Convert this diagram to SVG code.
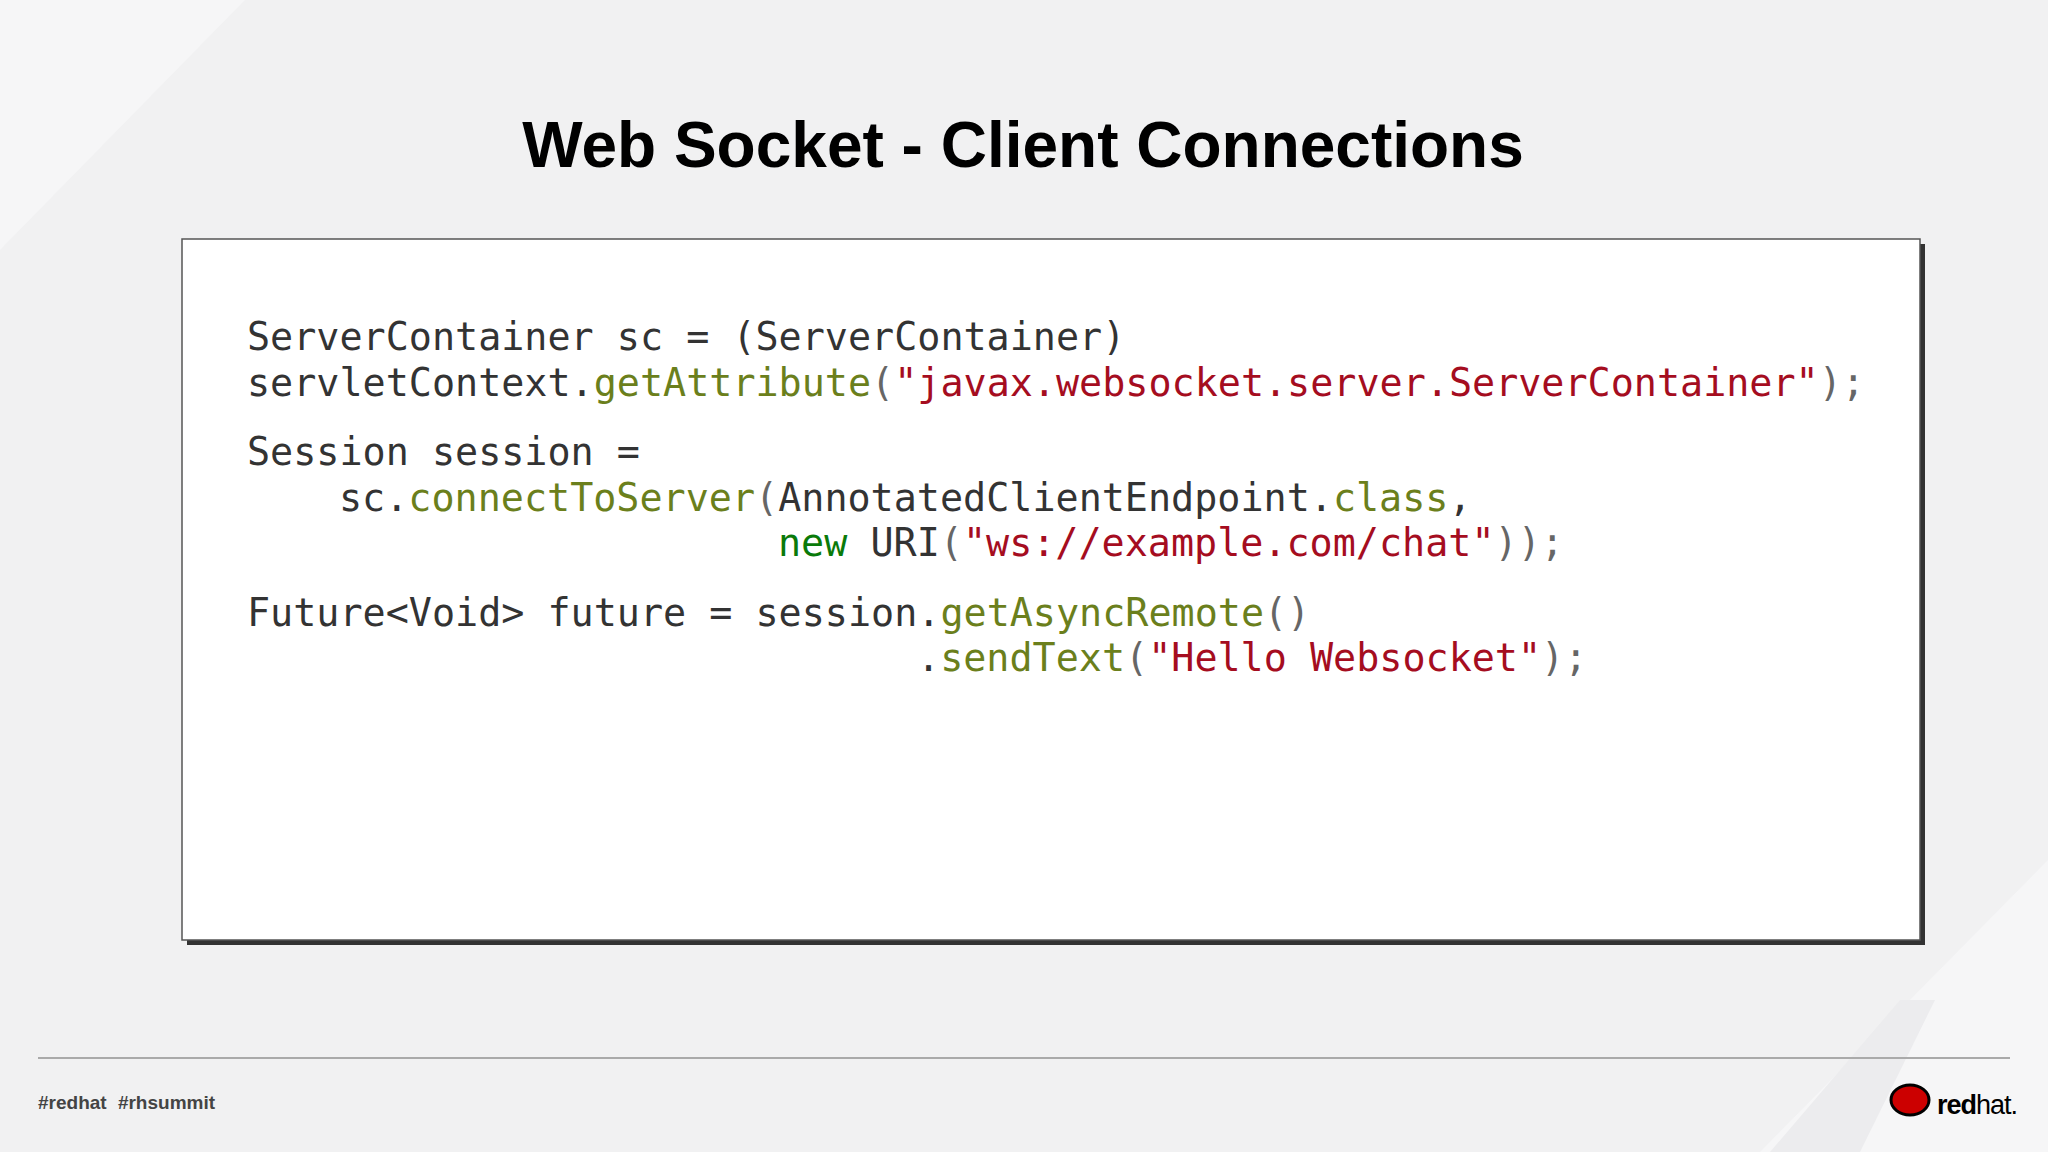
<svg xmlns="http://www.w3.org/2000/svg" width="2048" height="1152" viewBox="0 0 2048 1152">
<style>
.c{font-family:"DejaVu Sans Mono",monospace;font-size:38.4px;fill:#333}
.m{fill:#6b7f1c}.s{fill:#a50d1f}.k{fill:#0a7a0a}.p{fill:#666}
</style>
<rect width="2048" height="1152" fill="#f1f1f2"/>
<polygon points="0,0 245,0 0,250" fill="#f6f6f7"/>
<polygon points="2048,860 2048,1152 1760,1152" fill="#f6f6f7"/>
<polygon points="1935,1000 1860,1152 1770,1152 1900,1000" fill="#ececee"/>
<text x="1023" y="167" text-anchor="middle" font-family="Liberation Sans,Arial,sans-serif" font-weight="bold" font-size="64" fill="#000">Web Socket - Client Connections</text>
<g id="codebox">
<rect x="187" y="244" width="1738" height="701" fill="#333"/>
<rect x="182" y="239" width="1738" height="701" fill="#fff" stroke="#555" stroke-width="1.5"/>
</g>
<g id="code">
<text class="c" x="247" y="350">ServerContainer sc = (ServerContainer)</text>
<text class="c" x="247" y="396">servletContext.<tspan class="m">getAttribute</tspan><tspan class="p">(</tspan><tspan class="s">"javax.websocket.server.ServerContainer"</tspan><tspan class="p">);</tspan></text>
<text class="c" x="247" y="465">Session session =</text>
<text class="c" x="339" y="511">sc.<tspan class="m">connectToServer</tspan><tspan class="p">(</tspan>AnnotatedClientEndpoint.<tspan class="m">class</tspan>,</text>
<text class="c" x="778" y="556"><tspan class="k">new</tspan> URI<tspan class="p">(</tspan><tspan class="s">"ws://example.com/chat"</tspan><tspan class="p">));</tspan></text>
<text class="c" x="247" y="626">Future&lt;Void&gt; future = session.<tspan class="m">getAsyncRemote</tspan><tspan class="p">()</tspan></text>
<text class="c" x="917" y="671">.<tspan class="m">sendText</tspan><tspan class="p">(</tspan><tspan class="s">"Hello Websocket"</tspan><tspan class="p">);</tspan></text>
</g>
<line x1="38" y1="1058" x2="2010" y2="1058" stroke="#aaa" stroke-width="2"/>
<text x="38" y="1109" font-family="Liberation Sans,Arial,sans-serif" font-weight="bold" font-size="19" fill="#444" word-spacing="6">#redhat #rhsummit</text>
<g id="logo">
<ellipse cx="1910" cy="1100" rx="19" ry="15" fill="#cc0000" stroke="#000" stroke-width="3"/>
<text x="1937" y="1114" font-family="Liberation Sans,Arial,sans-serif" font-size="27" fill="#000" letter-spacing="-1"><tspan font-weight="bold">red</tspan>hat.</text>
</g>
</svg>
